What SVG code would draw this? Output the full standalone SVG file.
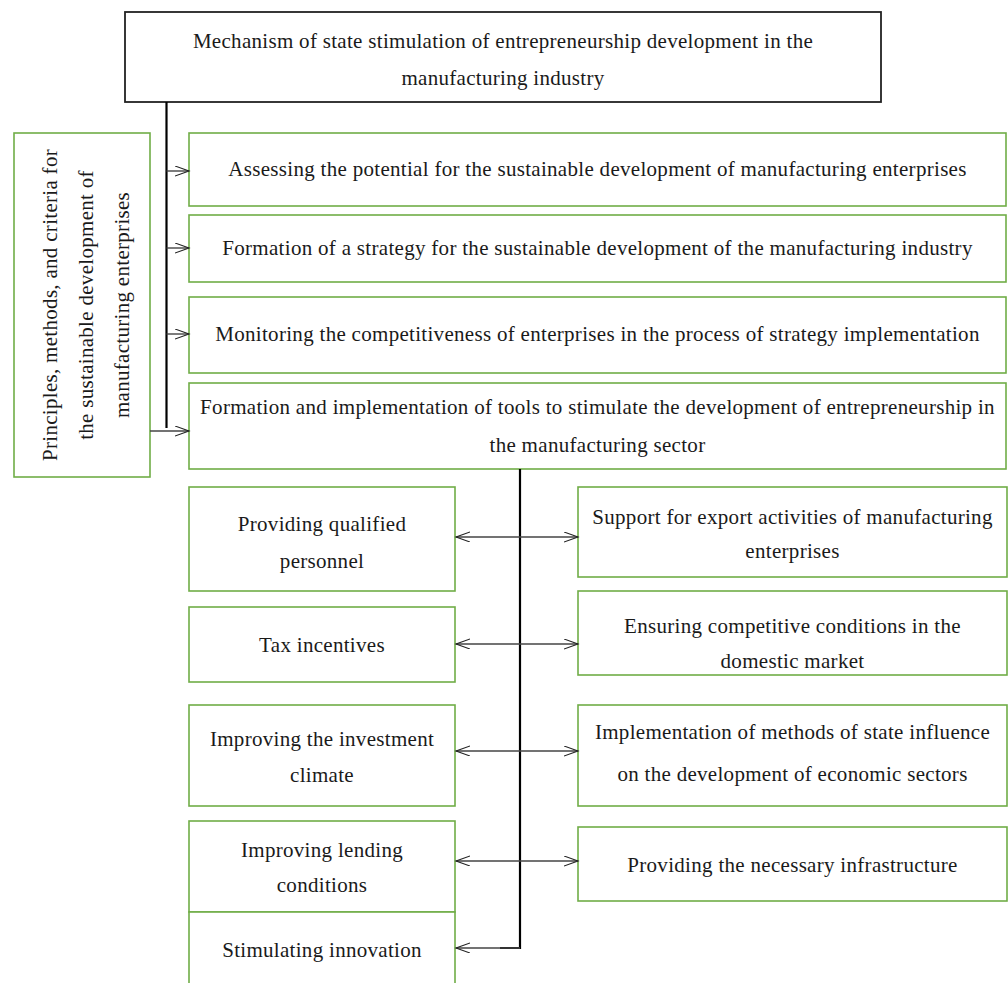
<svg xmlns="http://www.w3.org/2000/svg" width="1008" height="983" viewBox="0 0 1008 983">
<style>
.t{font-family:"Liberation Serif","Times New Roman",serif;font-size:21px;letter-spacing:0.3px;fill:#1a1a1a;text-anchor:middle}
.g{fill:#fff;stroke:#70AD47;stroke-width:1.6}
.k{fill:#fff;stroke:#222;stroke-width:1.8}
.c{fill:none;stroke:#000;stroke-width:2.2}
.a{fill:none;stroke:#444;stroke-width:1.4}
</style>
<defs>
<marker id="ah" markerUnits="userSpaceOnUse" markerWidth="16" markerHeight="12" refX="14" refY="5" orient="auto-start-reverse" viewBox="0 0 16 12">
<path d="M0,0 L14,5 L0,10" fill="none" stroke="#222" stroke-width="1.1"/>
</marker>
</defs>
<g id="n-top"><rect class="k" x="125" y="12" width="756" height="90"/>
<text class="t" x="503" y="48">Mechanism of state stimulation of entrepreneurship development in the</text>
<text class="t" x="503" y="85">manufacturing industry</text></g>
<g id="n-principles"><rect class="g" x="14" y="133" width="136" height="344"/>
<text class="t" transform="translate(57,305) rotate(-90)">Principles, methods, and criteria for</text>
<text class="t" transform="translate(93,305) rotate(-90)">the sustainable development of</text>
<text class="t" transform="translate(129,305) rotate(-90)">manufacturing enterprises</text></g>
<g id="n-assess"><rect class="g" x="189" y="133" width="817" height="73"/>
<text class="t" x="597.5" y="176">Assessing the potential for the sustainable development of manufacturing enterprises</text></g>
<g id="n-strategy"><rect class="g" x="189" y="215" width="817" height="67"/>
<text class="t" x="597.5" y="255">Formation of a strategy for the sustainable development of the manufacturing industry</text></g>
<g id="n-monitor"><rect class="g" x="189" y="297" width="817" height="76"/>
<text class="t" x="597.5" y="341">Monitoring the competitiveness of enterprises in the process of strategy implementation</text></g>
<g id="n-tools"><rect class="g" x="189" y="383" width="817" height="86"/>
<text class="t" x="597.5" y="414">Formation and implementation of tools to stimulate the development of entrepreneurship in</text>
<text class="t" x="597.5" y="452">the manufacturing sector</text></g>
<g id="n-personnel"><rect class="g" x="189" y="487" width="266" height="104"/>
<text class="t" x="322" y="531">Providing qualified</text>
<text class="t" x="322" y="568">personnel</text></g>
<g id="n-tax"><rect class="g" x="189" y="607" width="266" height="75"/>
<text class="t" x="322" y="652">Tax incentives</text></g>
<g id="n-invest"><rect class="g" x="189" y="705" width="266" height="101"/>
<text class="t" x="322" y="746">Improving the investment</text>
<text class="t" x="322" y="782">climate</text></g>
<g id="n-lending"><rect class="g" x="189" y="821" width="266" height="91"/>
<text class="t" x="322" y="857">Improving lending</text>
<text class="t" x="322" y="892">conditions</text></g>
<g id="n-innovation"><rect class="g" x="189" y="912" width="266" height="90"/>
<text class="t" x="322" y="957">Stimulating innovation</text></g>
<g id="n-export"><rect class="g" x="578" y="487" width="429" height="90"/>
<text class="t" x="792.5" y="524">Support for export activities of manufacturing</text>
<text class="t" x="792.5" y="558">enterprises</text></g>
<g id="n-competitive"><rect class="g" x="578" y="591" width="429" height="84"/>
<text class="t" x="792.5" y="633">Ensuring competitive conditions in the</text>
<text class="t" x="792.5" y="668">domestic market</text></g>
<g id="n-methods"><rect class="g" x="578" y="705" width="429" height="101"/>
<text class="t" x="792.5" y="739">Implementation of methods of state influence</text>
<text class="t" x="792.5" y="781">on the development of economic sectors</text></g>
<g id="n-infra"><rect class="g" x="578" y="827" width="429" height="74"/>
<text class="t" x="792.5" y="872">Providing the necessary infrastructure</text></g>
<g id="connectors">
<line class="c" x1="166.5" y1="102" x2="166.5" y2="428"/>
<line class="a" x1="166.5" y1="171" x2="189" y2="171" marker-end="url(#ah)"/>
<line class="a" x1="166.5" y1="248" x2="189" y2="248" marker-end="url(#ah)"/>
<line class="a" x1="166.5" y1="334" x2="189" y2="334" marker-end="url(#ah)"/>
<line class="a" x1="150" y1="431" x2="189" y2="431" marker-end="url(#ah)"/>
<polyline class="c" points="520,469 520,948 500,948"/>
<line class="a" x1="520" y1="948" x2="456" y2="948" marker-end="url(#ah)"/>
<line class="a" x1="456" y1="537" x2="578" y2="537" marker-start="url(#ah)" marker-end="url(#ah)"/>
<line class="a" x1="456" y1="644" x2="578" y2="644" marker-start="url(#ah)" marker-end="url(#ah)"/>
<line class="a" x1="456" y1="751" x2="578" y2="751" marker-start="url(#ah)" marker-end="url(#ah)"/>
<line class="a" x1="456" y1="861" x2="578" y2="861" marker-start="url(#ah)" marker-end="url(#ah)"/>
</g>
</svg>
